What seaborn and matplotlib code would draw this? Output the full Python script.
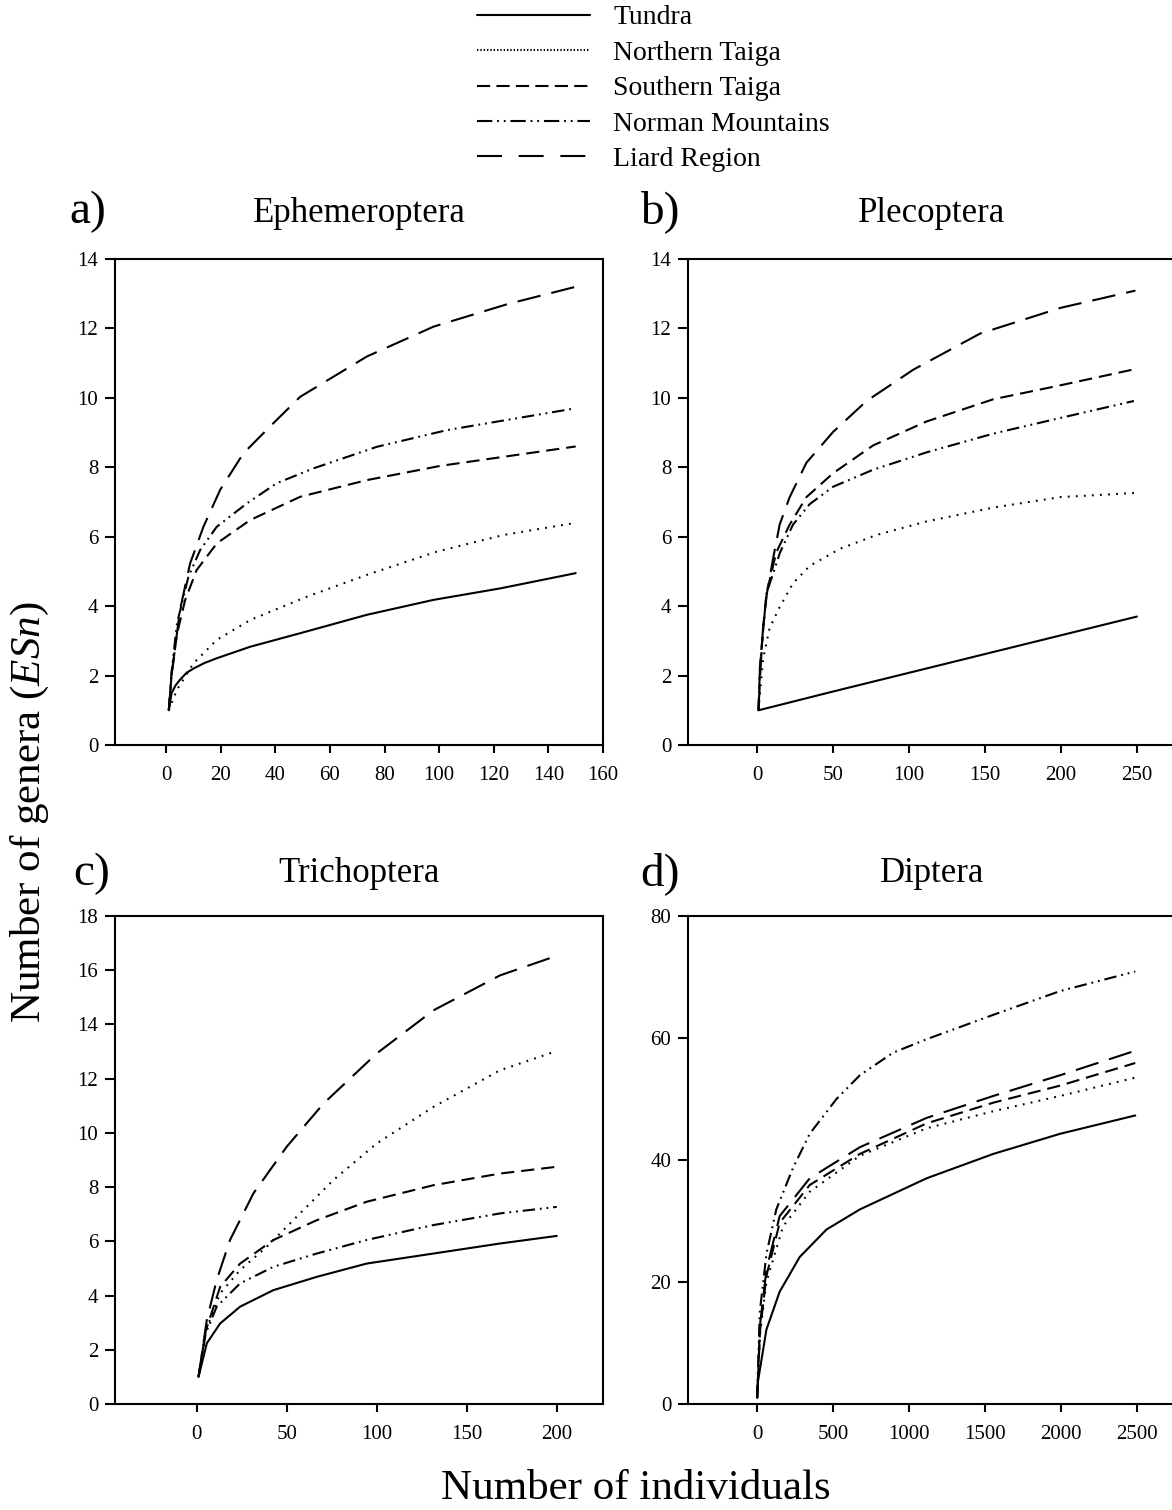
import matplotlib
matplotlib.use("Agg")
import matplotlib.pyplot as plt
from matplotlib.lines import Line2D
import pandas as pd
import seaborn as sns

# ---------------- data ----------------
regions = ["Tundra", "Northern Taiga", "Southern Taiga", "Norman Mountains", "Liard Region"]
panel_titles = ["Ephemeroptera", "Plecoptera", "Trichoptera", "Diptera"]
panel_letters = ["a)", "b)", "c)", "d)"]

# a) Ephemeroptera
eph_tundra_x = [1, 2, 3.5, 5, 7.5, 10, 14, 18.6, 30.8, 49.1, 73.5, 97.9, 122.3, 150]
eph_tundra_y = [1.0, 1.49, 1.72, 1.87, 2.08, 2.2, 2.36, 2.5, 2.83, 3.22, 3.75, 4.18, 4.51, 4.95]
eph_north_x = [1, 3.9, 10, 18.6, 30.8, 51.5, 73.5, 99.1, 123.6, 150]
eph_north_y = [1.0, 1.58, 2.35, 3.03, 3.6, 4.27, 4.9, 5.57, 6.05, 6.4]
eph_south_x = [1, 2, 4, 7, 11.2, 18.6, 30.8, 49.1, 73.5, 100.4, 150]
eph_south_y = [1.0, 2.0, 3.2, 4.18, 5.04, 5.81, 6.48, 7.15, 7.63, 8.04, 8.6]
eph_norman_x = [1, 2, 4, 8.2, 12.5, 18.6, 29.6, 40.5, 54, 77.2, 102.8, 150]
eph_norman_y = [1.0, 2.1, 3.5, 4.85, 5.62, 6.29, 6.96, 7.54, 7.97, 8.59, 9.07, 9.7]
eph_liard_x = [1, 2.1, 5.1, 8.8, 13.7, 19.8, 28.3, 39.3, 49.1, 73.5, 97.9, 125, 150]
eph_liard_y = [1.0, 2.07, 3.89, 5.23, 6.29, 7.35, 8.4, 9.27, 10.03, 11.19, 12.05, 12.7, 13.2]

# b) Plecoptera
ple_tundra_x = [1, 50, 100, 150, 200, 250]
ple_tundra_y = [1.0, 1.54, 2.08, 2.62, 3.16, 3.7]
ple_north_x = [1, 4, 8.3, 14.9, 23.7, 34.7, 54.5, 78.6, 111.6, 155.5, 199.5, 248]
ple_north_y = [1.0, 2.48, 3.37, 3.97, 4.66, 5.16, 5.65, 6.05, 6.44, 6.84, 7.14, 7.26]
ple_south_x = [1, 2, 6.2, 12.7, 21.5, 32.5, 50.1, 76.4, 111.6, 155.5, 199.5, 249]
ple_south_y = [1.0, 2.3, 4.36, 5.55, 6.35, 7.14, 7.83, 8.63, 9.32, 9.96, 10.36, 10.83]
ple_norman_x = [1, 2, 6.2, 15.2, 23.7, 34.7, 50.1, 76.4, 111.6, 155.5, 199.5, 248]
ple_norman_y = [1.0, 2.3, 4.36, 5.55, 6.35, 6.94, 7.44, 7.93, 8.43, 8.97, 9.42, 9.91]
ple_liard_x = [1, 2, 4, 6.5, 10.5, 14.9, 21.5, 32.5, 50.1, 72.1, 102.8, 146.7, 199.5, 249]
ple_liard_y = [1.0, 1.95, 3.4, 4.36, 5.35, 6.35, 7.14, 8.13, 9.02, 9.91, 10.81, 11.85, 12.59, 13.09]

# c) Trichoptera
tri_tundra_x = [1, 5.6, 13, 24.1, 42.6, 66.7, 94.4, 131.5, 168.5, 200]
tri_tundra_y = [1.0, 2.24, 2.97, 3.59, 4.2, 4.69, 5.18, 5.55, 5.92, 6.2]
tri_north_x = [1, 5, 13, 24.1, 38.9, 57.4, 75.9, 100, 131.5, 168.5, 200]
tri_north_y = [1.0, 2.7, 4.08, 4.94, 5.8, 7.03, 8.26, 9.61, 10.96, 12.31, 13.02]
tri_south_x = [1, 5, 13, 24.1, 42.6, 66.7, 94.4, 131.5, 168.5, 200]
tri_south_y = [1.0, 2.7, 4.32, 5.18, 6.05, 6.78, 7.46, 8.07, 8.5, 8.75]
tri_norman_x = [1, 5, 11.1, 24.1, 42.6, 66.7, 94.4, 131.5, 168.5, 200]
tri_norman_y = [1.0, 2.6, 3.59, 4.45, 5.06, 5.55, 6.05, 6.6, 7.03, 7.27]
tri_liard_x = [1, 5.6, 11.1, 18.5, 31.5, 50, 70.4, 100, 131.5, 168.5, 199]
tri_liard_y = [1.0, 3.1, 4.57, 6.05, 7.77, 9.49, 11.08, 12.93, 14.52, 15.81, 16.51]

# d) Diptera
dip_tundra_x = [1, 7, 62, 149, 281, 457, 677, 1116, 1555, 1995, 2489]
dip_tundra_y = [1.0, 3.8, 12.2, 18.4, 24.1, 28.6, 31.9, 37.0, 41.0, 44.3, 47.3]
dip_north_x = [1, 20, 62, 171, 347, 677, 1116, 1555, 1995, 2489]
dip_north_y = [1.0, 11.5, 20.0, 29.1, 34.8, 40.7, 45.2, 48.0, 50.5, 53.5]
dip_south_x = [1, 20, 62, 149, 347, 677, 1116, 1555, 1995, 2489]
dip_south_y = [1.0, 12.0, 21.0, 29.7, 35.9, 41.0, 46.0, 49.4, 52.2, 55.9]
dip_norman_x = [1, 18, 62, 127, 237, 347, 523, 677, 896, 1116, 1555, 1995, 2489]
dip_norman_y = [1.0, 15.0, 24.6, 31.9, 38.7, 44.3, 50.0, 53.9, 57.6, 59.8, 63.8, 67.7, 70.9]
dip_liard_x = [1, 20, 62, 149, 347, 677, 1116, 1555, 1995, 2500]
dip_liard_y = [1.0, 13.0, 22.0, 30.8, 37.0, 42.1, 46.9, 50.5, 53.9, 58.0]

x_ticks = [[0, 20, 40, 60, 80, 100, 120, 140, 160],
           [0, 50, 100, 150, 200, 250],
           [0, 50, 100, 150, 200],
           [0, 500, 1000, 1500, 2000, 2500]]
y_ticks = [[0, 2, 4, 6, 8, 10, 12, 14],
           [0, 2, 4, 6, 8, 10, 12, 14],
           [0, 2, 4, 6, 8, 10, 12, 14, 16, 18],
           [0, 20, 40, 60, 80]]

panels = [
    [(eph_tundra_x, eph_tundra_y), (eph_north_x, eph_north_y), (eph_south_x, eph_south_y),
     (eph_norman_x, eph_norman_y), (eph_liard_x, eph_liard_y)],
    [(ple_tundra_x, ple_tundra_y), (ple_north_x, ple_north_y), (ple_south_x, ple_south_y),
     (ple_norman_x, ple_norman_y), (ple_liard_x, ple_liard_y)],
    [(tri_tundra_x, tri_tundra_y), (tri_north_x, tri_north_y), (tri_south_x, tri_south_y),
     (tri_norman_x, tri_norman_y), (tri_liard_x, tri_liard_y)],
    [(dip_tundra_x, dip_tundra_y), (dip_north_x, dip_north_y), (dip_south_x, dip_south_y),
     (dip_norman_x, dip_norman_y), (dip_liard_x, dip_liard_y)],
]

# ---------------- style ----------------
sns.set_style("ticks")
plt.rcParams["font.family"] = ["Liberation Serif", "DejaVu Serif"]
plt.rcParams["mathtext.fontset"] = "custom"
plt.rcParams["mathtext.rm"] = "Liberation Serif"
plt.rcParams["mathtext.it"] = "Liberation Serif:italic"
plt.rcParams["lines.scale_dashes"] = False
plt.rcParams["text.color"] = "black"

dash_map = {
    "Tundra": "",
    "Northern Taiga": (1.3, 4.5),
    "Southern Taiga": (9.5, 5.0),
    "Norman Mountains": (9.0, 3.5, 1.3, 3.5, 1.3, 3.5),
    "Liard Region": (17.0, 8.0),
}
legend_dash = {
    "Tundra": None,
    "Northern Taiga": (1.0, 1.4),
    "Southern Taiga": (9.5, 4.5),
    "Norman Mountains": (11.0, 3.5, 1.3, 3.5, 1.3, 3.5),
    "Liard Region": (18.0, 12.0),
}

W, H = 1172, 1510
def fx(px):
    return px / W
def fy(py):
    return 1 - py / H

fig = plt.figure(figsize=(W / 100, H / 100), dpi=100)

# axes boxes in pixels: (left, top, right, bottom)
boxes = [(115, 259, 603, 745), (688, 259, 1176, 745),
         (115, 916, 603, 1404), (688, 916, 1176, 1404)]
xlims = [(-18.7, 160), (-45.4, 275.7), (-45.4, 225.7), (-454, 2757)]
ylims = [(0, 14), (0, 14), (0, 18), (0, 80)]
title_y = [213, 213, 873, 873]
letter_pos = [(88, 212), (660, 212), (92, 874), (660, 874)]

for i in range(4):
    l, t, r, b = boxes[i]
    ax = fig.add_axes([fx(l), fy(b), (r - l) / W, (b - t) / H])
    rows = []
    for reg, (xs, ys) in zip(regions, panels[i]):
        for xv, yv in zip(xs, ys):
            rows.append({"n": xv, "ES": yv, "Region": reg})
    df = pd.DataFrame(rows)
    sns.lineplot(data=df, x="n", y="ES", style="Region", style_order=regions,
                 dashes=dash_map, color="black", linewidth=1.5, errorbar=None,
                 legend=False, ax=ax)
    ax.set_xlim(*xlims[i])
    ax.set_ylim(*ylims[i])
    ax.set_xticks(x_ticks[i])
    ax.set_yticks(y_ticks[i])
    ax.set_xlabel("")
    ax.set_ylabel("")
    for sp in ax.spines.values():
        sp.set_visible(True)
        sp.set_linewidth(1.5)
        sp.set_color("black")
    ax.tick_params(axis="x", direction="out", length=6, width=1.5, pad=9,
                   labelsize=15, colors="black")
    ax.tick_params(axis="y", direction="out", length=7, width=1.5, pad=5,
                   labelsize=15, colors="black")
    fig.text(fx((l + r) / 2), fy(title_y[i]), panel_titles[i], ha="center",
             va="center", fontsize=25)
    fig.text(fx(letter_pos[i][0]), fy(letter_pos[i][1]), panel_letters[i],
             ha="center", va="center", fontsize=34)

fig.text(fx(30), fy(812), r"Number of genera ($ESn$)", rotation=90,
         ha="center", va="center", fontsize=31)
fig.text(fx(636), fy(1489), "Number of individuals", ha="center", va="center",
         fontsize=31)

handles = []
for reg in regions:
    if legend_dash[reg] is None:
        h = Line2D([0], [0], color="black", lw=1.5, linestyle="-")
    else:
        h = Line2D([0], [0], color="black", lw=1.5, linestyle=(0, legend_dash[reg]))
    handles.append(h)
fig.legend(handles, regions, loc="upper left", bbox_to_anchor=(fx(477), fy(5)),
           frameon=False, fontsize=20, handlelength=4.07, handletextpad=0.83,
           labelspacing=0.36, borderpad=0, borderaxespad=0)

fig.savefig("out.png", dpi=100)
